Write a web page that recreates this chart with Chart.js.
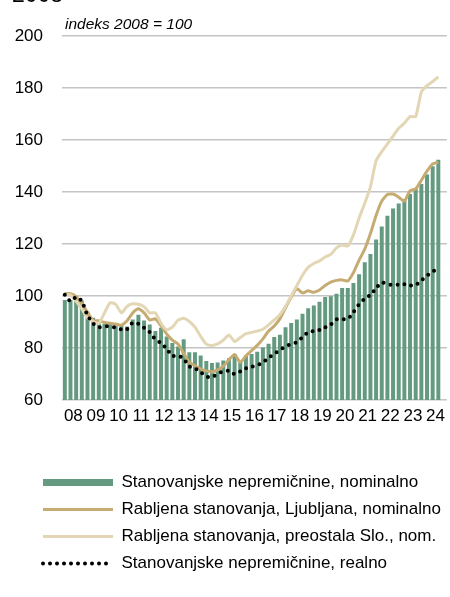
<!DOCTYPE html>
<html>
<head>
<meta charset="utf-8">
<script src="https://cdn.jsdelivr.net/npm/chart.js@4/dist/chart.umd.min.js"></script>
<style>
  html, body { margin: 0; padding: 0; background: #fff; }
  #wrap { position: relative; width: 450px; height: 597px; overflow: hidden; }
  canvas { position: absolute; left: 0; top: 0; }
  .txt { position: absolute; font-family: 'Liberation Sans', Arial, sans-serif; color: #000; white-space: nowrap; }
  #top { left: 12px; top: -19px; font-size: 23px; }
  #unit { left: 65px; top: 15px; font-size: 15.5px; font-style: italic; }
</style>
</head>
<body>
<div id="wrap">
  <canvas id="c" width="450" height="597"></canvas>
  <div class="txt" id="top">2008</div>
  <div class="txt" id="unit">indeks 2008 = 100</div>
</div>
<script>
// Year tick labels (one per year, quarters 2008Q1 - 2024Q3)
const yearLabels = ['08','09','10','11','12','13','14','15','16','17','18','19','20','21','22','23','24'];
const quarterNames = ['Q1','Q2','Q3','Q4'];

// Series (indeks 2008 = 100), quarterly
const nominal = [
  98.5, 98.5, 100.0, 98.3,   94.0, 91.6, 90.0, 89.3,   89.3, 88.7, 88.7, 88.3,
  91.0, 92.8, 90.6, 89.0,    86.5, 87.8, 84.4, 81.9,   80.6, 83.4, 78.4, 78.4,
  77.1, 75.0, 74.2, 74.4,    75.2, 76.1, 77.7, 75.0,   77.0, 77.7, 78.6, 80.2,
  81.6, 84.2, 85.1, 88.0,    89.6, 91.0, 93.2, 95.3,   96.3, 97.8, 99.6, 99.9,
  100.9, 103.1, 103.1, 105.0, 108.4, 113.0, 116.2, 121.7, 126.7, 130.9, 133.7, 135.6,
  137.3, 139.2, 141.2, 143.1, 146.7, 149.9, 152.4
];
const ljubljana = [
  100.9, 100.9, 99.8, 97.0,  93.8, 90.6, 90.5, 89.8,   89.5, 89.2, 88.8, 90.5,
  93.5, 95.1, 93.5, 90.8,    91.2, 88.5, 85.4, 83.0,   81.5, 78.0, 74.5, 73.2,
  72.0, 71.2, 70.8, 71.6,    73.0, 75.5, 77.5, 74.5,   77.0, 79.0, 81.0, 83.5,
  86.5, 88.5, 91.2, 95.5,    99.5, 102.8, 101.2, 102.0, 101.4, 102.3, 104.0, 105.3,
  106.0, 106.2, 105.8, 109.0, 113.8, 118.0, 124.0, 131.0, 136.5, 139.0, 139.2, 138.0,
  136.5, 140.5, 141.2, 144.5, 148.0, 150.8, 151.5
];
const preostala = [
  100.6, 100.4, 98.0, 95.0,  91.5, 90.2, 89.4, 93.5,   97.4, 96.8, 93.5, 96.0,
  97.0, 96.8, 95.9, 93.5,    93.5, 89.5, 87.0, 88.0,   90.7, 91.4, 90.2, 88.0,
  84.5, 81.5, 81.0, 81.6,    83.0, 85.0, 82.5, 84.0,   85.5, 86.0, 86.5, 87.2,
  88.9, 90.8, 92.8, 96.0,    100.0, 104.0, 108.0, 111.0, 112.5, 113.5, 115.0, 116.0,
  118.5, 119.6, 119.2, 123.5, 130.0, 135.7, 142.0, 152.0, 155.5, 158.5, 161.5, 164.5,
  166.5, 169.0, 169.0, 178.5, 180.9, 182.5, 184.3
];
const realno = [
  100.5, 98.0, 99.6, 98.0,   92.5, 89.5, 88.0, 88.3,   88.4, 87.8, 87.2, 87.2,
  89.8, 89.3, 87.8, 86.1,    83.3, 81.9, 79.7, 77.0,   77.1, 75.8, 72.9, 72.2,
  70.7, 69.0, 68.7, 70.2,    70.9, 71.3, 70.0, 71.0,   72.2, 72.8, 73.3, 74.5,
  76.2, 77.8, 79.2, 80.6,    81.6, 82.2, 84.2, 86.0,   86.5, 86.9, 87.9, 89.0,
  91.0, 91.0, 91.2, 93.8,    96.8, 99.0, 100.4, 103.0, 105.2, 104.6, 104.2, 104.4,
  104.5, 104.0, 104.2, 106.0, 107.8, 109.4, 110.5
];
const seriesNames = [
  'Stanovanjske nepremičnine, nominalno',
  'Rabljena stanovanja, Ljubljana, nominalno',
  'Rabljena stanovanja, preostala Slo., nom.',
  'Stanovanjske nepremičnine, realno'
];

// category labels: one per quarter, plus one spare slot at the right edge
const categories = [];
yearLabels.forEach(y => quarterNames.forEach(q => categories.push(y + q)));
categories.length = nominal.length;
categories.push('');

const FONT = "'Liberation Sans', Arial, sans-serif";
const GREEN = '#639a80', TAN = '#c6ab72', BEIGE = '#e3d6b4';

const legendShift = {
  id: 'legendShift',
  afterLayout(chart) { chart.legend.left += 33; chart.legend.right += 33; }
};

new Chart(document.getElementById('c'), {
  data: {
    labels: categories,
    datasets: [
      { type: 'bar', label: seriesNames[0], data: nominal, backgroundColor: GREEN, borderWidth: 0,
        barPercentage: 0.7, categoryPercentage: 1.0, order: 4 },
      { type: 'line', label: seriesNames[1], data: ljubljana, borderColor: TAN, borderWidth: 3,
        pointRadius: 0, tension: 0.2, fill: false, order: 3 },
      { type: 'line', label: seriesNames[2], data: preostala, borderColor: BEIGE, borderWidth: 3,
        pointRadius: 0, tension: 0.2, fill: false, order: 2 },
      { type: 'line', label: seriesNames[3], data: realno, borderColor: '#000', borderWidth: 4,
        borderDash: [0, 7], borderCapStyle: 'round', pointRadius: 0, tension: 0.2, fill: false, order: 1 }
    ]
  },
  options: {
    responsive: false,
    animation: false,
    devicePixelRatio: 1,
    layout: { padding: { top: 36, right: 1, bottom: 15, left: 0 } },
    scales: {
      x: {
        grid: { display: false, drawTicks: false },
        border: { display: false },
        ticks: {
          autoSkip: false, maxRotation: 0, minRotation: 0, padding: 6,
          labelOffset: 2.85,
          color: '#000', font: { family: FONT, size: 17 },
          callback: (v, i) => (i % 4 === 1 && i < nominal.length) ? yearLabels[Math.floor(i / 4)] : ''
        },
        afterFit: (s) => { s.height = 64; }
      },
      y: {
        min: 60, max: 200,
        grid: { color: '#c4c4c4', lineWidth: 1.4, drawTicks: false },
        border: { display: false },
        ticks: { stepSize: 20, padding: 19, color: '#000', font: { family: FONT, size: 17 } },
        afterFit: (s) => { s.width = 62; }
      }
    },
    plugins: {
      tooltip: { enabled: false },
      legend: {
        position: 'bottom', align: 'start',
        labels: {
          usePointStyle: true, pointStyleWidth: 70, boxWidth: 70, boxHeight: 7, padding: 10,
          color: '#000', font: { family: FONT, size: 17 },
          generateLabels: (chart) => chart.data.datasets.map((ds, i) => ({
            text: ds.label,
            datasetIndex: i,
            hidden: false,
            fontColor: '#000',
            fillStyle: ds.type === 'bar' ? ds.backgroundColor : 'rgba(0,0,0,0)',
            strokeStyle: ds.type === 'bar' ? 'rgba(0,0,0,0)' : ds.borderColor,
            lineWidth: ds.type === 'bar' ? 0 : ds.borderWidth,
            lineDash: ds.borderDash || [],
            lineCap: ds.borderCapStyle || 'butt',
            pointStyle: ds.type === 'bar' ? 'rect' : 'line'
          }))
        }
      }
    }
  },
  plugins: [legendShift]
});
</script>
</body>
</html>
